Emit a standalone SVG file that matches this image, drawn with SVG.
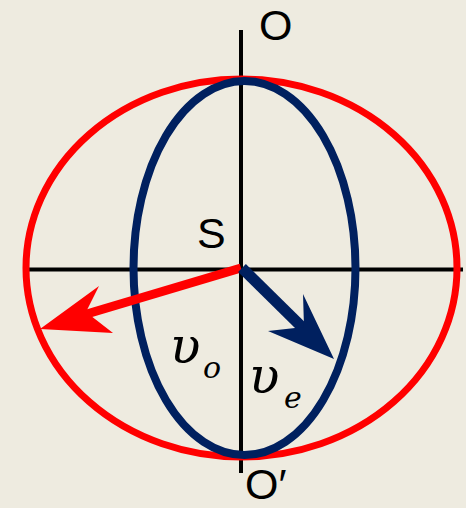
<svg xmlns="http://www.w3.org/2000/svg" width="466" height="508" viewBox="0 0 466 508">
<style>
.axis{stroke:#000;stroke-width:4;fill:none}
.lbl{font-family:"Liberation Sans",Arial,sans-serif;font-size:43px;fill:#000}
.gr{font-family:"DejaVu Serif",serif;font-style:italic;fill:#000}
</style>
<rect width="466" height="508" fill="#EEEBE0"/>
<g id="axes">
<line class="axis" x1="241" y1="30" x2="241" y2="473"/>
<line class="axis" x1="24" y1="269.5" x2="463" y2="269.5"/>
</g>
<g id="ellipse-o"><ellipse cx="241.5" cy="268" rx="215.5" ry="189" fill="none" stroke="#FF0000" stroke-width="7"/></g>
<g id="ellipse-e"><ellipse cx="244.5" cy="268" rx="111" ry="187" fill="none" stroke="#00205F" stroke-width="8"/></g>
<g id="connectors">
<line x1="241" y1="268" x2="80" y2="316" stroke="#FF0000" stroke-width="9"/>
<polygon points="40,329 99,286 86,312 113,333" fill="#FF0000"/>
<line x1="242" y1="268" x2="310" y2="335" stroke="#00205F" stroke-width="11"/>
<polygon points="334,359 303,294 304,327 268,331" fill="#00205F"/>
</g>
<g id="labels">
<text class="lbl" x="259" y="40">O</text>
<text class="lbl" x="197" y="248" font-size="45">S</text>
<text class="lbl" x="245" y="499">O′</text>
<text class="gr" x="170" y="363" font-size="50">υ</text>
<text class="gr" x="203" y="378" font-size="30">o</text>
<text class="gr" x="249" y="393" font-size="50">υ</text>
<text class="gr" x="284" y="408" font-size="30">e</text>
</g>
</svg>
